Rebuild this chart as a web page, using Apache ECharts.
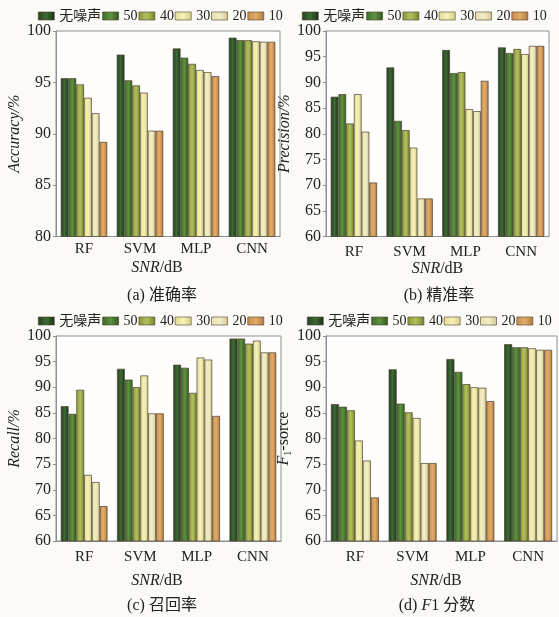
<!DOCTYPE html>
<html>
<head>
<meta charset="utf-8">
<script src="https://cdn.jsdelivr.net/npm/echarts@6/dist/echarts.min.js"></script>
<style>
html,body{margin:0;padding:0;background:#fcfaf6;}
#main{width:559px;height:617px;}
</style>
</head>
<body>
<div id="main"></div>
<script>
// ---- data ----
const categories = ['RF', 'SVM', 'MLP', 'CNN'];
const seriesNames = ['无噪声', '50', '40', '30', '20', '10'];
const yTicks = [60, 65, 70, 75, 80, 85, 90, 95, 100];

// Accuracy/%  (per noise level, over RF, SVM, MLP, CNN)
const accNoNoise = [95.4, 97.7, 98.3, 99.35];
const acc50 = [95.4, 95.2, 97.4, 99.1];
const acc40 = [94.8, 94.7, 96.8, 99.1];
const acc30 = [93.5, 94.0, 96.2, 99.0];
const acc20 = [92.0, 90.3, 96.0, 98.95];
const acc10 = [89.2, 90.3, 95.6, 98.95];

// Precision/%
const preNoNoise = [87.2, 92.9, 96.3, 96.8];
const pre50 = [87.7, 82.5, 91.8, 95.7];
const pre40 = [82.0, 80.7, 92.0, 96.5];
const pre30 = [87.7, 77.3, 84.8, 95.5];
const pre20 = [80.4, 67.4, 84.4, 97.1];
const pre10 = [70.5, 67.4, 90.3, 97.1];

// Recall/%
const recNoNoise = [86.3, 93.6, 94.4, 99.5];
const rec50 = [84.8, 91.5, 93.8, 99.5];
const rec40 = [89.5, 90.0, 88.9, 98.5];
const rec30 = [72.9, 92.3, 95.8, 99.1];
const rec20 = [71.5, 84.9, 95.4, 96.8];
const rec10 = [66.8, 84.9, 84.4, 96.8];

// F1-sorce
const f1NoNoise = [86.7, 93.5, 95.5, 98.4];
const f150 = [86.2, 86.8, 93.0, 97.8];
const f140 = [85.5, 85.1, 90.6, 97.8];
const f130 = [79.6, 84.0, 90.0, 97.6];
const f120 = [75.7, 75.2, 89.9, 97.3];
const f110 = [68.5, 75.2, 87.3, 97.3];

// ---- styles ----
const SERIF = "'Liberation Serif', 'Noto Sans CJK SC', serif";
const gradStops = [
  ['#22401e', '#3f6a37', '#1b3317'],
  ['#3d6a2a', '#5f9240', '#32561f'],
  ['#869838', '#b4c05e', '#76862c'],
  ['#e2dc92', '#f6f2b8', '#d4ce84'],
  ['#e4dea8', '#f4eec6', '#d2cb94'],
  ['#c68a4a', '#e2ac6a', '#b47a3e']
];
function grad(i) {
  const s = gradStops[i];
  return {type: 'linear', x: 0, y: 0, x2: 1, y2: 0,
    colorStops: [{offset: 0, color: s[0]}, {offset: 0.5, color: s[1]}, {offset: 1, color: s[2]}]};
}

const panels = [
  {data: [accNoNoise, acc50, acc40, acc30, acc20, acc10], min: 80,
   grid: {left: 56, top: 31, width: 224, height: 205.5},
   yName: '{i|Accuracy/%}', yGap: 33, xLabelMargin: 5, xNameGap: 23, xNamePad: [0, 22, 0, 0],
   legend: {left: 38, top: 9}, title: '(a) 准确率', titleLeft: 157, titleTop: 283},
  {data: [preNoNoise, pre50, pre40, pre30, pre20, pre10], min: 60,
   grid: {left: 326, top: 31, width: 223, height: 205.5},
   yName: '{i|Precision/%}', yGap: 29, xLabelMargin: 8, xNameGap: 23, xNamePad: [0, 0, 0, 0],
   legend: {left: 302, top: 9}, title: '(b) 精准率', titleLeft: 434, titleTop: 283},
  {data: [recNoNoise, rec50, rec40, rec30, rec20, rec10], min: 60,
   grid: {left: 56, top: 336, width: 225, height: 205},
   yName: '{i|Recall/%}', yGap: 33, xLabelMargin: 9, xNameGap: 32, xNamePad: [0, 23, 0, 0],
   legend: {left: 38, top: 314}, title: '(c) 召回率', titleLeft: 157, titleTop: 593},
  {data: [f1NoNoise, f150, f140, f130, f120, f110], min: 60,
   grid: {left: 326, top: 336, width: 231, height: 205},
   yName: '{i|F}{s|1}{n|-sorce}', yGap: 27, xLabelMargin: 9, xNameGap: 32, xNamePad: [0, 11, 0, 0],
   legend: {left: 307, top: 314}, title: '(d) {i|F}1 分数', titleLeft: 432, titleTop: 593}
];

const option = {
  backgroundColor: '#fcfaf6',
  animation: false,
  title: [], legend: [], grid: [], xAxis: [], yAxis: [], series: []
};

panels.forEach((p, k) => {
  option.grid.push(Object.assign({show: true, borderColor: '#8c9096', borderWidth: 1, backgroundColor: '#fffefc'}, p.grid));
  option.xAxis.push({
    type: 'category', gridIndex: k, data: categories,
    axisTick: {show: false},
    axisLine: {lineStyle: {color: '#8c9096'}},
    axisLabel: {color: '#222', fontFamily: SERIF, fontSize: 15, margin: p.xLabelMargin},
    name: '{i|SNR}/dB', nameLocation: 'middle', nameGap: p.xNameGap,
    nameTextStyle: {color: '#222', fontFamily: SERIF, fontSize: 16, padding: p.xNamePad,
      rich: {i: {fontStyle: 'italic', fontFamily: SERIF, fontSize: 16, color: '#222'}}}
  });
  option.yAxis.push({
    type: 'value', gridIndex: k, min: p.min, max: 100, interval: 5,
    splitLine: {show: false},
    axisLine: {show: true, lineStyle: {color: '#8c9096'}},
    axisTick: {show: true, length: 3, lineStyle: {color: '#8c9096'}},
    axisLabel: {color: '#222', fontFamily: SERIF, fontSize: 16, margin: 5},
    name: p.yName, nameLocation: 'middle', nameRotate: 90, nameGap: p.yGap,
    nameTextStyle: {color: '#222', fontFamily: SERIF, fontSize: 16,
      rich: {
        i: {fontStyle: 'italic', fontFamily: SERIF, fontSize: 16, color: '#222'},
        s: {fontFamily: SERIF, fontSize: 10, color: '#222', verticalAlign: 'bottom', padding: [8, 0, 0, 0]},
        n: {fontFamily: SERIF, fontSize: 16, color: '#222'}
      }}
  });
  option.legend.push({
    left: p.legend.left, top: p.legend.top, width: 300, padding: 0, orient: 'horizontal',
    itemWidth: 16, itemHeight: 8, itemGap: 1, icon: 'rect',
    selectedMode: false,
    data: seriesNames,
    textStyle: {color: '#222', fontFamily: SERIF, fontSize: 14, padding: 0},
    itemStyle: {borderColor: '#4a4030', borderWidth: 0.6}
  });
  option.title.push({
    text: p.title, left: p.titleLeft, top: p.titleTop, textAlign: 'center',
    textStyle: {color: '#222', fontFamily: SERIF, fontSize: 16, fontWeight: 'normal',
      rich: {i: {fontStyle: 'italic', fontFamily: SERIF, fontSize: 16, color: '#222'}}}
  });
  seriesNames.forEach((nm, i) => {
    option.series.push({
      type: 'bar', name: nm, xAxisIndex: k, yAxisIndex: k,
      data: p.data[i], barGap: '0%', barCategoryGap: '17%',
      itemStyle: {color: grad(i), borderColor: '#4a4030', borderWidth: 0.7}
    });
  });
});

const chart = echarts.init(document.getElementById('main'));
chart.setOption(option);
</script>
</body>
</html>
